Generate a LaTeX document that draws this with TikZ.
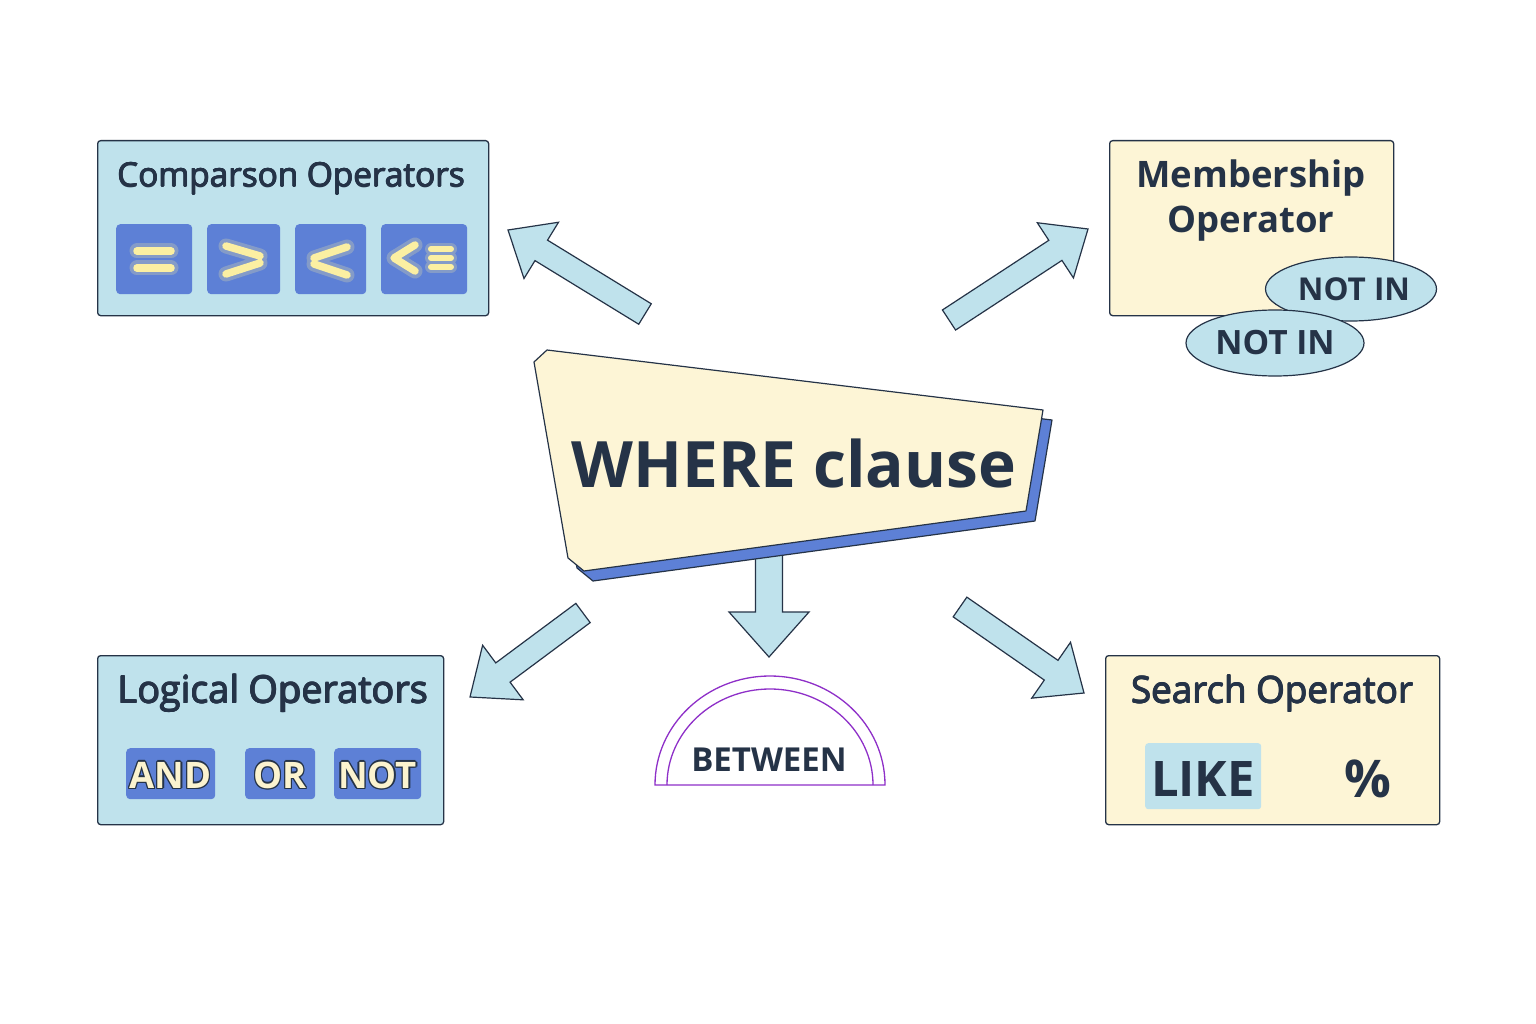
\documentclass[tikz,border=0pt]{standalone}
\usepackage{fontspec}
\setmainfont{Open Sans}
\usetikzlibrary{shapes.geometric}
\definecolor{ink}{HTML}{253347}
\definecolor{lblue}{HTML}{BFE2EC}
\definecolor{cream}{HTML}{FDF5D6}
\definecolor{btn}{HTML}{5D80D6}
\definecolor{glyph}{HTML}{FBEFA2}
\definecolor{txtcream}{HTML}{FBF3CF}
\definecolor{archc}{HTML}{8E2FC8}
\newcommand\outl[1]{%
  \setbox0\hbox{#1}%
  \leavevmode
  \rlap{\color{ink}\hspace*{-1.4pt}\copy0}%
  \rlap{\color{ink}\hspace*{1.4pt}\copy0}%
  \rlap{\color{ink}\raisebox{1.4pt}{\copy0}}%
  \rlap{\color{ink}\raisebox{-1.4pt}{\copy0}}%
  \rlap{\color{ink}\hspace*{1pt}\raisebox{1pt}{\copy0}}%
  \rlap{\color{ink}\hspace*{-1pt}\raisebox{1pt}{\copy0}}%
  \rlap{\color{ink}\hspace*{1pt}\raisebox{-1pt}{\copy0}}%
  \rlap{\color{ink}\hspace*{-1pt}\raisebox{-1pt}{\copy0}}%
  {\color{txtcream}\copy0}}
\newcommand\emb[1]{%
  \setbox0\hbox{#1}%
  \leavevmode
  \rlap{\hspace*{-0.45pt}\copy0}%
  \rlap{\hspace*{0.6pt}\copy0}%
  \rlap{\raisebox{0.55pt}{\copy0}}%
  \rlap{\raisebox{-0.45pt}{\copy0}}%
  \rlap{\hspace*{0.4pt}\raisebox{0.4pt}{\copy0}}%
  \copy0}
\newcommand\blockarrow[7]{%
  \pgfmathsetmacro\baang{atan2((#2)-(#4),(#3)-(#1))}%
  \pgfmathsetmacro\balen{veclen((#3)-(#1),(#4)-(#2))}%
  \begin{scope}[shift={(#1,#2)},rotate=\baang]
    \draw[barrow] (0,-#5) -- ({\balen-#7},-#5) -- ({\balen-#7},-#6) -- (\balen,0)
      -- ({\balen-#7},#6) -- ({\balen-#7},#5) -- (0,#5) -- cycle;
  \end{scope}}
\begin{document}
\begin{tikzpicture}[x=1pt,y=-1pt,
  panel/.style={draw=ink,line width=1.3pt,rounded corners=3pt,inner sep=0pt},
  btnbox/.style={fill=btn,rounded corners=4pt,inner sep=0pt},
  barrow/.style={draw=ink,line width=1.2pt,fill=lblue,line join=miter},
  title/.style={text=ink,anchor=base},
  btitle/.style={font=\bfseries\fontsize{36.5}{42}\selectfont,text=ink,anchor=base},
  glow/.style={line width=15pt,line cap=round,line join=round,glyph,opacity=0.25},
  glyphline/.style={line width=7.5pt,line cap=round,line join=round,glyph},
  pill/.style={ellipse,draw=ink,line width=1.2pt,fill=lblue,inner sep=0pt,text=ink},
  archline/.style={draw=archc,line width=1.3pt}]
\path[fill=white] (0,0) rectangle (1536,1024);
\useasboundingbox (0,0) rectangle (1536,1024);

% ---------- Comparison panel
\node[panel,fill=lblue,minimum width=391pt,minimum height=175pt,anchor=north west] (cmp) at (97,140) {};
\node[title,font=\fontsize{33.3}{40}\selectfont] (cmpt) at (291,187) {\emb{Comparson Operators}};
\node[btnbox,minimum width=76pt,minimum height=70pt,anchor=north west] (b1) at (116,224) {};
\node[btnbox,minimum width=73pt,minimum height=70pt,anchor=north west] (b2) at (207,224) {};
\node[btnbox,minimum width=71pt,minimum height=70pt,anchor=north west] (b3) at (295,224) {};
\node[btnbox,minimum width=86pt,minimum height=70pt,anchor=north west] (b4) at (381,224) {};
\foreach \s in {glow,glyphline}{
  \draw[\s] (137,251) -- (171,251) (137,268) -- (171,268);
  \draw[\s] (226,246) -- (260,256) (226,274) -- (260,263);
  \draw[\s] (347,247) -- (314,258) (314,264) -- (347,275);
  \draw[\s] (415,245) -- (394,258) -- (415,271);
}
\foreach \s/\w in {glow/12,glyphline/6}{
  \draw[\s,line width=\w pt] (431,249) -- (451,249) (431,258) -- (451,258) (431,267) -- (451,267);
}

% ---------- Membership panel
\node[panel,fill=cream,minimum width=284pt,minimum height=175pt,anchor=north west] (mem) at (1109,140) {};
\node[btitle] (memt1) at (1251,188) {Membership};
\node[btitle] (memt2) at (1251,233) {Operator};
\node[pill,minimum width=171pt,minimum height=64pt,font=\bfseries\fontsize{31.5}{38}\selectfont] (nin1) at (1351,289) {\hspace*{6pt}NOT IN};
\node[pill,minimum width=178pt,minimum height=66pt,font=\bfseries\fontsize{33.5}{38}\selectfont] (nin2) at (1275,343) {NOT IN};

% ---------- arrows
\blockarrow{645}{314}{508}{230}{12}{33}{39}
\blockarrow{949}{320}{1088}{229}{12}{33}{39}
\blockarrow{583}{613}{470}{697}{12}{34}{41}
\blockarrow{960}{607}{1084}{693}{12}{34}{40}
\blockarrow{769}{540}{769}{657}{13.5}{40}{45}

% ---------- central sign
\draw[fill=btn,draw=ink,line width=1.2pt,line join=round]
  (556,360) -- (543,372) -- (577,568) -- (593,581) -- (1035,521) -- (1052,420) -- cycle;
\draw[fill=cream,draw=ink,line width=1.2pt,line join=round]
  (547,350) -- (534,362) -- (568,558) -- (584,571) -- (1026,511) -- (1043,410) -- cycle;
\node[font=\bfseries\fontsize{64}{76}\selectfont,text=ink,anchor=base] (where) at (794,487) {WHERE clause};

% ---------- BETWEEN arch
\draw[archline] (655,785) arc[start angle=180,end angle=360,x radius=115,y radius=109] -- cycle;
\draw[archline] (667,785) arc[start angle=180,end angle=360,x radius=103,y radius=96];
\node[font=\bfseries\fontsize{33}{40}\selectfont,text=ink,anchor=base] (betw) at (769,771) {BETWEEN};

% ---------- Logical panel
\node[panel,fill=lblue,minimum width=346pt,minimum height=169pt,anchor=north west] (log) at (97,655) {};
\node[title,font=\fontsize{37.8}{44}\selectfont] (logt) at (273,703) {\emb{Logical Operators}};
\node[btnbox,minimum width=89pt,minimum height=51pt,anchor=north west] (band) at (126,748) {};
\node[btnbox,minimum width=70pt,minimum height=51pt,anchor=north west] (bor) at (245,748) {};
\node[btnbox,minimum width=87pt,minimum height=51pt,anchor=north west] (bnot) at (334,748) {};
\node[font=\bfseries\fontsize{36.5}{40}\selectfont,anchor=base] (tand) at (170.5,788) {\outl{AND}};
\node[font=\bfseries\fontsize{36.5}{40}\selectfont,anchor=base] (tor) at (280,788) {\outl{OR}};
\node[font=\bfseries\fontsize{36.5}{40}\selectfont,anchor=base] (tnot) at (377.5,788) {\outl{NOT}};

% ---------- Search panel
\node[panel,fill=cream,minimum width=334pt,minimum height=169pt,anchor=north west] (srch) at (1105,655) {};
\node[title,font=\fontsize{36.8}{44}\selectfont] (srcht) at (1272,703) {\emb{Search Operator}};
\node[fill=lblue,rounded corners=3pt,minimum width=116pt,minimum height=66pt,anchor=north west,inner sep=0pt] (blike) at (1145,743) {};
\node[font=\bfseries\fontsize{49}{58}\selectfont,text=ink,anchor=base] (tlike) at (1203,796) {LIKE};
\node[font=\bfseries\fontsize{52}{60}\selectfont,text=ink,anchor=base] (tpct) at (1368,797) {\%};
\end{tikzpicture}
\end{document}
